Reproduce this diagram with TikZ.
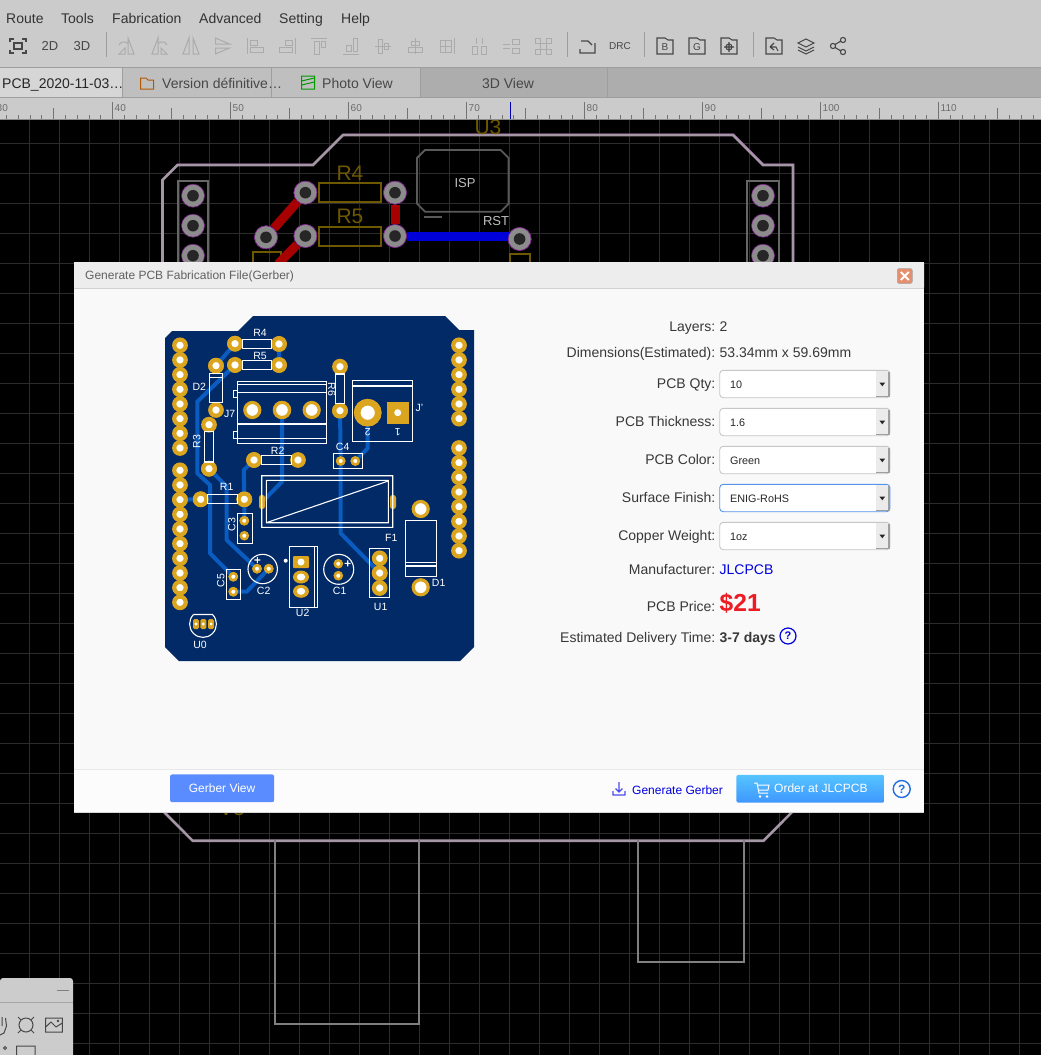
\documentclass[tikz,border=0pt]{standalone}
\usepackage{fontspec}
\setmainfont{Liberation Sans}
\definecolor{barGrey}{HTML}{CBCBCB}
\definecolor{tabGrey}{HTML}{ADADAD}
\definecolor{gridGrey}{HTML}{2C2C2C}
\definecolor{edgeGrey}{HTML}{A596A5}
\definecolor{silkGold}{HTML}{6E5800}
\definecolor{padRim}{HTML}{7A1F8A}
\definecolor{boardBlue}{HTML}{012A66}
\definecolor{traceBlue}{HTML}{0A5CC0}
\definecolor{padGold}{HTML}{DBA520}
\definecolor{linkBlue}{HTML}{0000E0}
\definecolor{helpBlue}{HTML}{1F6FE0}
\definecolor{priceRed}{HTML}{ED1C24}
\definecolor{gerberBlue}{HTML}{5B8CFF}
\definecolor{orderTop}{HTML}{55C4FF}
\definecolor{orderEnd}{HTML}{3F97FF}
\definecolor{closeRed}{HTML}{E58F6E}
\newcommand{\px}[1]{\fontsize{#1}{#1}\selectfont}
\begin{document}
\begin{tikzpicture}[x=1pt,y=-1pt]
        \tikzset{
            menuitem/.style={anchor=base west,text=black!80,font=\px{14}},
            tabtext/.style={anchor=base west,text=black!72,font=\px{14}},
            rulertext/.style={anchor=base west,text=black!58,font=\px{10}},
            tooloff/.style={draw=black!33,line width=1pt},
            toolon/.style={draw=black!72,line width=1.1pt},
            viapad/.style={circle,draw=padRim,fill=black!45,line width=.6pt,minimum size=23pt,inner sep=0,
                    path picture={\fill[black!85] (path picture bounding box.center) circle (5.8pt);}},
            silktext/.style={text=silkGold,font=\px{21}},
            pcbpad/.style={circle,draw=padGold,fill=white,line width=4.2pt,minimum size=11.5pt,inner sep=0},
            smallpad/.style={pcbpad,line width=2.5pt,minimum size=7pt},
            bigpad/.style={pcbpad,line width=3.2pt,minimum size=15pt},
            trace/.style={draw=traceBlue,line width=4pt,line join=round},
            silk/.style={draw=white,line width=1.1pt},
            silktag/.style={text=white,font=\px{10.5},inner sep=0},
            fieldname/.style={anchor=base east,text=black!78,font=\px{14}},
            fieldvalue/.style={anchor=base west,text=black!78,font=\px{14}},
            choice/.style={anchor=base west,text=black!85,font=\px{10.8}}
        }
        \useasboundingbox (0,0) rectangle (1041,1055);
        \clip (0,0) rectangle (1041,1055);

        % canvas and grid
        \fill[black] (0,119) rectangle (1041,1055);
        \foreach \i in {0,...,35}{
                \draw[gridGrey,line width=1pt] (30*\i-.3,119) -- (30*\i-.3,1055);
            }
        \foreach \i in {4,...,34}{
                \draw[gridGrey,line width=1.2pt] (0,30*\i+23.7) -- (1041,30*\i+23.7);
            }

        % layout behind the dialog
        \draw[silkGold,line width=2pt] (252.5,275) -- (252.5,252.3) -- (280.5,252.3) -- (280.5,275);
        \draw[silkGold,line width=2pt] (510,275) -- (510,254) -- (529.6,254) -- (529.6,275);
        \node[viapad] (padA) at (305.4,192.7) {};
        \node[viapad] (padB) at (395,192.7) {};
        \node[viapad] (padC) at (305.4,236) {};
        \node[viapad] (padD) at (395,236) {};
        \node[viapad] (padE) at (266,237.3) {};
        \node[viapad] (padF) at (519.6,239) {};
        \coordinate (redEnd) at (278,264);
        \draw[padRim,line width=1pt,shift={(.7,-1)}] (162.5,275) -- (162.5,180) -- (177.5,165) -- (313,165) -- (343,135) -- (733,135) -- (763,165) -- (793,165) -- (793,275);
        \draw[draw=edgeGrey,line width=2.6pt,line join=miter] (162.5,275) -- (162.5,180) -- (177.5,165) -- (313,165) -- (343,135) -- (733,135) -- (763,165) -- (793,165) -- (793,275);
        \draw[draw=edgeGrey,line width=2.6pt] (155,803) -- (192.6,840.7) -- (763.6,840.7) -- (801,803);
        \draw[black!50,line width=2pt] (275,840) -- (275,1024) -- (419,1024) -- (419,840);
        \draw[black!50,line width=2pt] (637.5,840) -- (637.5,962.3) -- (744.4,962.3) -- (744.4,840);
        \draw[black!60,line width=2pt] (177.5,275) -- (177.5,180.7) -- (208,180.7) -- (208,275);
        \draw[black!60,line width=2pt] (747,275) -- (747,180.5) -- (778.8,180.5) -- (778.8,275);
        \foreach \i/\y in {1/195.7,2/225.7,3/255.7}{
                \node[viapad] (headL\i) at (193,\y) {};
                \node[viapad] (headR\i) at (763,\y) {};
            }
        \draw[red!65!black,line width=9pt] (padA) -- (padE);
        \draw[red!65!black,line width=9pt] (padC) -- (redEnd);
        \draw[red!65!black,line width=9pt] (padB) -- (padD);
        \draw[blue!85!black,line width=9pt] (padD) -- (padD -| padF);
        \foreach \p in {A,B,C,D,E,F}{
                \node[viapad] (via\p) at (pad\p) {};
            }
        \draw[silkGold,line width=2pt] (319,183.3) rectangle (381,202.3);
        \draw[silkGold,line width=2pt] (319,227) rectangle (381,246);
        \node[silktext] (lblR4) at (350,173) {R4};
        \node[silktext] (lblR5) at (350,216) {R5};
        \node[silktext,anchor=base] (lblU3) at (488,134) {U3};
        \node[silktext,anchor=base] (lblV3) at (232,815) {V3};
        \draw[black!65,line width=1.8pt] (425,150) -- (500.6,150) -- (508.6,158) -- (508.6,203.7) -- (500.6,211.7) -- (425,211.7) -- (417,203.7) -- (417,158) -- cycle;
        \draw[black!65,line width=2pt] (424,216.7) -- (442,216.7);
        \node[text=black!25,font=\px{13}] (lblISP) at (465,183.5) {ISP};
        \node[text=black!25,font=\px{13}] (lblRST) at (496,221) {RST};

        % menu, tabs and ruler
        \fill[barGrey] (0,0) rectangle (1041,67);
        \foreach \name/\x in {Route/6,Tools/61,Fabrication/112,Advanced/199,Setting/279,Help/341}{
                \node[menuitem,inner sep=0] (menu\name) at (\x,23) {\name};
            }
        \draw[toolon,shift={(18,46)}] (-8,-4) -- (-8,-7) -- (-4,-7) (4,-7) -- (8,-7) -- (8,-4) (8,4) -- (8,7) -- (4,7) (-4,7) -- (-8,7) -- (-8,4) (-4,-3) rectangle (4,3);
        \node[text=black!72,font=\px{13}] (view2D) at (50,46) {2D};
        \node[text=black!72,font=\px{13}] (view3D) at (82,46) {3D};
        \foreach \x in {106.4,567,644,753}{
                \draw[black!38,line width=.8pt] (\x,32) -- (\x,57);
            }
        \draw[tooloff,shift={(127,46)}] (1,-8) -- (1,8) -- (7,8) -- cycle (-8,8) -- (-2,2) -- (-2,8) -- cycle (-8,-1) arc (200:320:5);
        \draw[tooloff,shift={(159,46)}] (-1,-8) -- (-1,8) -- (-7,8) -- cycle (8,8) -- (2,2) -- (2,8) -- cycle (8,-1) arc (-20:-140:5);
        \draw[tooloff,shift={(191,46)}] (-2,-8) -- (-2,8) -- (-8,8) -- cycle (2,-8) -- (2,8) -- (8,8) -- cycle;
        \draw[tooloff,shift={(222.5,46)}] (-7,-8) -- (7,-2) -- (-7,-2) -- cycle (-7,8) -- (7,2) -- (-7,2) -- cycle;
        \draw[tooloff,shift={(255,46)}] (-8,-8) -- (-8,8) (-5,-6) rectangle (2,-1) (-5,1) rectangle (8,6);
        \draw[tooloff,shift={(287,46)}] (8,-8) -- (8,8) (5,-6) rectangle (-2,-1) (5,1) rectangle (-8,6);
        \draw[tooloff,shift={(319,46)}] (-8,-8) -- (8,-8) (-5,-5) rectangle (0,8) (2,-5) rectangle (6,1);
        \draw[tooloff,shift={(351,46)}] (-8,8) -- (8,8) (-5,5) rectangle (0,-1) (2,5) rectangle (6,-8);
        \draw[tooloff,shift={(383,46)}] (-8,0) -- (8,0) (-5,-7) rectangle (-1,7) (1,-3) rectangle (5,3);
        \draw[tooloff,shift={(415,46)}] (0,-8) -- (0,8) (-7,1) rectangle (7,6) (-4,-5) rectangle (4,-1);
        \draw[tooloff,shift={(447,46)}] (-7,-6) rectangle (4,6) (-1.5,-6) -- (-1.5,6) (-7,0) -- (4,0) (7,-8) -- (7,8);
        \draw[tooloff,shift={(479,46)}] (-3,-8) -- (-3,-2) (3,-8) -- (3,-2) (-7,0) rectangle (-2,8) (2,0) rectangle (7,8);
        \draw[tooloff,shift={(511,46)}] (1,-7) rectangle (8,-2) (1,2) rectangle (8,7) (-8,-2) -- (-1,-2) (-8,2) -- (-1,2);
        \draw[tooloff,shift={(543,46)}] (-8,-8) rectangle (-3,-3) (3,-8) rectangle (8,-3) (-8,3) rectangle (-3,8) (3,3) rectangle (8,8) (-3,-3) rectangle (3,3);
        \draw[toolon,shift={(588,46)}] (-7,-5) -- (0,-5) -- (4,-1) (7,-3) -- (7,7) -- (-8,7) -- (-8,3);
        \node[text=black!72,font=\px{10}] (toolDRC) at (620,46) {DRC};
        \foreach \x/\letter in {665/B,697/G}{
                \draw[toolon,shift={(\x,46)}] (-8,-8) -- (0,-8) -- (3,-6) -- (8,-6) -- (8,8) -- (-8,8) -- cycle;
                \node[text=black!72,font=\px{10}] (folder\letter) at (\x,47.5) {\letter};
            }
        \draw[toolon,shift={(729,46)}] (-8,-8) -- (0,-8) -- (3,-6) -- (8,-6) -- (8,8) -- (-8,8) -- cycle (0,1) circle (3) (0,-4) -- (0,6) (-5,1) -- (5,1);
        \draw[toolon,shift={(774,46)}] (-8,-8) -- (0,-8) -- (3,-6) -- (8,-6) -- (8,8) -- (-8,8) -- cycle (-4,1) -- (0,-3) (-4,1) -- (0,4) (-4,1) -- (2,1) -- (4,5);
        \draw[toolon,shift={(806,46)}] (-8,-3) -- (0,-7) -- (8,-3) -- (0,1) -- cycle (-8,1) -- (0,5) -- (8,1) (-8,4) -- (0,8) -- (8,4);
        \draw[toolon,shift={(838,46)}] (-5,0) circle (2.6) (5,-6) circle (2.6) (5,6) circle (2.6) (-3,-1.5) -- (3,-5) (-3,1.5) -- (3,5);

        \fill[tabGrey] (0,67) rectangle (1041,97);
        \fill[black!16] (0,68) rectangle (122,97);
        \fill[black!25] (122,68) rectangle (420,97);
        \draw[black!38,line width=.7pt] (0,67.5) -- (1041,67.5);
        \foreach \x in {122,271,420,607}{
                \draw[black!38,line width=.8pt] (\x,68) -- (\x,97);
            }
        \node[tabtext,inner sep=0,text=black!85] (tabPCB) at (2,88) {PCB\_2020-11-03…};
        \node[tabtext,inner sep=0] (tabVersion) at (162,88) {Version définitive…};
        \node[tabtext,inner sep=0] (tabPhoto) at (322,88) {Photo View};
        \node[text=black!72,font=\px{14}] (tab3D) at (508,83) {3D View};
        \draw[orange!70!black,line width=1pt] (140.5,89) -- (140.5,78) -- (146,78) -- (148,80) -- (153.5,80) -- (153.5,89) -- cycle;
        \draw[green!60!black,line width=1pt] (301.5,76) rectangle (314.5,89) (301.5,81) -- (314.5,78) (301.5,85) -- (314.5,82);
        \fill[barGrey] (0,97) rectangle (1041,119);
        \draw[black!38,line width=1pt] (0,97.5) -- (1041,97.5);
        \foreach \i in {0,...,88}{
                \draw[black!55,line width=.6pt] (11.8*\i-5.5,115) -- (11.8*\i-5.5,119);
            }
        \foreach \i in {0,...,8}{
                \draw[black!55,line width=.6pt] (118*\i+53.5,108) -- (118*\i+53.5,119);
                \draw[black!55,line width=.6pt] (118*\i-5.5,102) -- (118*\i-5.5,119);
            }
        \foreach \i/\val in {0/30,1/40,2/50,3/60,4/70,5/80,6/90,7/100,8/110}{
                \node[rulertext,inner sep=0] (rule\val) at (118*\i-3.5,111) {\val};
            }
        \draw[blue!70!black,line width=.8pt] (510.7,102) -- (510.7,119);
        \draw[black!45,line width=1pt] (0,119) -- (1041,119);

        % floating tool palette
        \fill[black!20,rounded corners=3pt] (0,978) -- (73,978) -- (73,1060) -- (0,1060) -- cycle;
        \draw[black!35,line width=1pt] (0,1002.3) -- (73,1002.3);
        \draw[black!50,line width=1.2pt] (57,990.7) -- (69,990.7);
        \draw[black!72,line width=1pt] (0,1035) -- (4,1033) -- (6.5,1026) -- (5.5,1018) (2,1017) -- (2,1026);
        \draw[black!72,line width=1pt] (26,1025) circle (7) (21,1020) -- (18,1017) (31,1020) -- (34,1017) (21,1030) -- (18,1033) (31,1030) -- (34,1033);
        \draw[black!72,line width=1pt] (45.7,1018) rectangle (62.3,1032) (45.7,1027) -- (51,1022) -- (56,1027) -- (62.3,1023) (58,1021) circle (.6);
        \draw[black!72,line width=1pt] (16.7,1046) rectangle (35,1060) (5,1048) circle (1.5);

        % dialog
        \fill[black!2.5] (74,262) rectangle (924,812);
        \fill[black!7,rounded corners=1pt] (74,262) rectangle (924,288);
        \draw[black!18,line width=1pt] (74,288.5) -- (924,288.5);
        \node[anchor=base west,inner sep=0,text=black!62,font=\px{12}] (dlgTitle) at (85,279) {Generate PCB Fabrication File(Gerber)};
        \node[fill=closeRed,draw=black!35,line width=.5pt,rounded corners=2pt,minimum size=15pt,inner sep=0] (dlgClose) at (904.8,276) {};
        \draw[white,line width=2pt] (dlgClose.center) ++(-4,-4) -- ++(8,8) ++(0,-8) -- ++(-8,8);
        \fill[black!1] (74,769) rectangle (924,812);
        \draw[black!9,line width=1pt] (74,769.5) -- (924,769.5);
        \draw[black!16,line width=.8pt] (74,812) -- (924,812);

        % board preview
        \fill[boardBlue] (165,338) -- (172,331) -- (238,331) -- (253,316) -- (445,316) -- (459,330) -- (474,330) -- (474,647) -- (460,661) -- (179,661) -- (165,647) -- cycle;
        \node[pcbpad] (r4a) at (235,343.7) {};
        \node[pcbpad] (r4b) at (279,344) {};
        \node[pcbpad] (r5a) at (235,365) {};
        \node[pcbpad] (r5b) at (279,365) {};
        \node[pcbpad] (d2a) at (216,365.7) {};
        \node[pcbpad] (d2b) at (216,410) {};
        \node[pcbpad] (r6a) at (340,366.7) {};
        \node[pcbpad] (r6b) at (340,410.7) {};
        \node[pcbpad] (r3a) at (209,424.7) {};
        \node[pcbpad] (r3b) at (209,468.7) {};
        \node[pcbpad] (r2a) at (254,460) {};
        \node[pcbpad] (r2b) at (298,460) {};
        \node[pcbpad] (r1a) at (200.7,499.3) {};
        \node[pcbpad] (r1b) at (244.3,499.3) {};
        \node[smallpad] (c4a) at (340.7,461) {};
        \node[smallpad] (c4b) at (355.3,461) {};
        \node[smallpad] (c3a) at (244.3,520.7) {};
        \node[smallpad] (c3b) at (244.3,535.7) {};
        \node[smallpad] (c5a) at (233.3,576.7) {};
        \node[smallpad] (c5b) at (233.3,591.7) {};
        \node[smallpad] (c2a) at (257,568.7) {};
        \node[smallpad] (c2b) at (268.7,568.7) {};
        \node[smallpad] (c1a) at (338.3,563.7) {};
        \node[smallpad] (c1b) at (338.3,575.7) {};
        \node[pcbpad] (u1a) at (379.7,558.3) {};
        \node[pcbpad] (u1b) at (379.7,573) {};
        \node[pcbpad] (u1c) at (379.7,588) {};
        \node[bigpad] (j7a) at (252.3,410) {};
        \node[bigpad] (j7b) at (282,410) {};
        \node[bigpad] (j7c) at (311.7,410) {};
        \node[bigpad] (d1a) at (420.7,509) {};
        \node[bigpad] (d1b) at (420.7,587.3) {};
        \node[pcbpad,line width=6.5pt,minimum size=21pt] (j1b) at (367.7,412.7) {};
        \node[fill=padGold,minimum size=22pt,inner sep=0] (j1a) at (397.7,412.7) {};
        \fill[white] (j1a) circle (3.5);
        \coordinate (f1a) at (262,502);
        \coordinate (f1b) at (393,502);
        \fill[padGold,rounded corners=2.5pt] (390,495) rectangle (396,509);
        \foreach \i in {0,...,7}{
                \node[pcbpad] (hl\i) at (180,345.3+14.67*\i) {};
            }
        \foreach \i in {0,...,9}{
                \node[pcbpad] (hm\i) at (180,470.3+14.67*\i) {};
            }
        \foreach \i in {0,...,5}{
                \node[pcbpad] (hr\i) at (459,345.3+14.67*\i) {};
            }
        \foreach \i in {0,...,7}{
                \node[pcbpad] (hs\i) at (459,448+14.67*\i) {};
            }
        \coordinate (t1) at (197.3,401.7);
        \coordinate (t2) at (197.3,473.3);
        \coordinate (t3) at (210,485);
        \coordinate (t4) at (210,553.3);
        \coordinate (t5) at (226.7,486.7);
        \coordinate (t6) at (226.7,540);
        \coordinate (t7) at (243.8,470);
        \coordinate (t8) at (282,481.7);
        \coordinate (t9) at (340.7,533.3);
        \coordinate (t10) at (367.7,448.3);
        \coordinate (t11) at (246.7,591.7);
        \draw[trace] (r4a.center) -- (d2a.center);
        \draw[trace] (r4b.center) -- (r5b.center);
        \draw[trace] (r5a.center) -- (t1) -- (t2) -- (t3) -- (t4) -- (c5a.center);
        \draw[trace] (r3b.center) -- (t5) -- (t6) -- (c2a.center);
        \draw[trace] (r2a.center) -- (t7) -- (r1b.center) -- (c3a.center);
        \draw[trace] (hm2.center) -- (r1a.center);
        \draw[trace] (j7b.center) -- (t8) -- (f1a);
        \draw[trace] (r6b.center) -- (c4a.center) -- (t9) -- (u1b.center);
        \draw[trace] (j1b.center) -- (t10) -- (c4b.center);
        \draw[trace] (c5b.center) -- (t11) -- (c2b.center);
        % pads again over the copper
        \foreach \p in {r4a,r4b,r5a,r5b,d2a,r6b,r3b,r2a,r1a,r1b,u1b,hm2}{
                \node[pcbpad] (top\p) at (\p) {};
            }
        \node[bigpad] (topj7b) at (j7b) {};
        \node[pcbpad,line width=6.5pt,minimum size=21pt] (topj1b) at (j1b) {};
        \foreach \p in {c4a,c4b,c3a,c5a,c5b,c2a,c2b}{
                \node[smallpad] (top\p) at (\p) {};
            }
        \fill[padGold,rounded corners=2.5pt] (259,495) rectangle (265,509);
        % silkscreen
        \draw[silk] (242.3,339.3) rectangle (271.7,348.7);
        \draw[silk] (242.3,360.7) rectangle (271.7,369.7);
        \draw[silk] (209.3,373.3) rectangle (222.7,402.3) (209.3,377.7) -- (222.7,377.7);
        \draw[silk,line width=1.5pt] (237.3,381.7) rectangle (326.7,443.3) (237.3,384.3) -- (326.7,384.3) (237.3,392.7) -- (326.7,392.7) (237.3,424) -- (326.7,424) (237.3,438.7) -- (326.7,438.7);
        \draw[silk] (233.3,390.3) rectangle (237.3,397.3) (233.3,431.7) rectangle (237.3,438.7);
        \draw[silk] (335.3,374) rectangle (344.7,403.7);
        \draw[silk,line width=1.5pt] (352.7,380.7) rectangle (412.3,441.3) (352.7,386) -- (412.3,386);
        \draw[silk] (204.3,431.7) rectangle (213.7,462);
        \draw[silk] (261.3,455.3) rectangle (291.7,464.3);
        \draw[silk] (333.3,453.7) rectangle (362.3,468.3);
        \draw[silk] (261.7,475.7) rectangle (392.7,527.3) (266.3,480.3) rectangle (388.3,522.7) (266.3,522.7) -- (388.3,481);
        \draw[silk] (207.7,494.7) rectangle (237.3,503.7);
        \draw[silk] (237.3,513.3) rectangle (252.3,543.3);
        \draw[silk] (226.3,569.3) rectangle (240.7,599.3);
        \draw[silk] (262.7,569) circle (14.7) (254.3,560) -- (260.3,560) (257.3,557) -- (257.3,563);
        \draw[silk] (289.3,546.3) rectangle (317.7,607.3) (314.3,546.3) -- (314.3,607.3);
        \fill[white] (285.7,560.7) circle (2);
        \draw[silk] (338.7,569.3) circle (15) (344.7,563.3) -- (350.7,563.3) (347.7,560.3) -- (347.7,566.3);
        \draw[silk] (369.3,548.3) rectangle (389.3,597.3);
        \draw[silk] (405.3,520.3) rectangle (436.7,576.3) (405.3,562.7) -- (436.7,562.7) (405.3,566) -- (436.7,566);
        \draw[silk] (193.5,614.5) -- (212.5,614.5) arc (-45:225:13.4);
        \node[fill=padGold,inner sep=0,minimum width=16pt,minimum height=12pt,rounded corners=1pt] (u2a) at (301,562) {};
        \fill[white] (u2a) circle (3.5);
        \foreach \y in {577,591.3}{
                \fill[padGold] (301,\y) ellipse (8 and 6.5);
                \fill[white] (301,\y) ellipse (4.2 and 3.5);
            }
        \foreach \x in {196,203.3,211}{
                \fill[padGold,rounded corners=1.5pt] (\x-3,619) rectangle (\x+3,629);
                \fill[white] (\x,624) circle (1.6);
            }
        \foreach \tag/\x/\y/\turn in {R4/260/333/0,R5/260/355.7/0,D2/199.3/386.7/0,J7/229.7/414/0,R6/331.7/389.3/-90,J'/419.3/408/0,2/367.7/432.3/180,1/397.7/432.3/180,R3/196.7/441.7/90,R2/277.7/451.3/0,C4/342.7/447.3/0,R1/226.7/487/0,C3/231.7/524.3/90,C5/220.7/580.3/90,C2/263.7/590.7/0,U2/302.7/613.3/0,C1/339.7/591/0,U1/380.7/607.3/0,F1/391.3/537.7/0,D1/438.7/582.7/0,U0/200/644.7/0}{
                \node[silktag,rotate=\turn] (tag\tag) at (\x,\y) {\tag};
            }

        % fabrication settings
        \node[fieldname,inner sep=0] (nameLayers) at (715.5,331.5) {Layers:};
        \node[fieldvalue,inner sep=0] (valLayers) at (719.5,331.5) {2};
        \node[fieldname,inner sep=0] (nameDim) at (715.5,357.5) {Dimensions(Estimated):};
        \node[fieldvalue,inner sep=0] (valDim) at (719.5,357.5) {53.34mm x 59.69mm};
        \foreach \sel/\top/\lab/\val/\edge in {Qty/370.3/PCB Qty:/10/black!22,Thick/408.3/PCB Thickness:/1.6/black!22,Color/446.3/PCB Color:/Green/black!22,Finish/484.3/Surface Finish:/ENIG-RoHS/helpBlue!75!white,Copper/522.3/Copper Weight:/1oz/black!22}{
                \node[fieldname,inner sep=0] (name\sel) at (715.5,\top+18.3) {\lab};
                \draw[draw=\edge,fill=white,line width=.9pt,rounded corners=3.5pt] (719.7,\top) rectangle (890,\top+27.4);
                \fill[black!8] (876,\top+1) rectangle (888,\top+26);
                \draw[black!38,line width=1.4pt] (876,\top+26.3) -- (888.8,\top+26.3) -- (888.8,\top+2);
                \fill[black!85] (879.4,\top+12.2) -- (885.2,\top+12.2) -- (882.3,\top+16) -- cycle;
                \node[choice,inner sep=0] (val\sel) at (730,\top+18) {\val};
            }
        \node[fieldname,inner sep=0] (nameMaker) at (715.5,574) {Manufacturer:};
        \node[fieldvalue,inner sep=0,text=linkBlue] (valMaker) at (719.5,574) {JLCPCB};
        \node[fieldname,inner sep=0] (namePrice) at (715.5,611) {PCB Price:};
        \node[fieldvalue,inner sep=0,text=priceRed,font=\px{24.6}\bfseries] (valPrice) at (719.5,611) {\$21};
        \node[fieldname,inner sep=0] (nameTime) at (715.5,642) {Estimated Delivery Time:};
        \node[fieldvalue,inner sep=0,font=\px{14}\bfseries] (valTime) at (719.5,642) {3-7 days};
        \node[circle,draw=linkBlue,line width=1.2pt,minimum size=16pt,inner sep=0,text=linkBlue,font=\px{11}\bfseries] (helpTime) at (788,636) {?};

        % footer buttons
        \node[fill=gerberBlue,rounded corners=2pt,minimum width=104pt,minimum height=27.7pt,inner sep=0,text=white,font=\px{12}] (btnGerber) at (222.1,788.3) {Gerber View};
        \node[anchor=base west,inner sep=0,text=linkBlue,font=\px{12}] (lnkGenerate) at (632,794) {Generate Gerber};
        \draw[linkBlue!70!white,line width=1.1pt] (619,782) -- (619,792) (615.5,788.5) -- (619,792) -- (622.5,788.5) (613,791) -- (613,795) -- (625,795) -- (625,791);
        \node[top color=orderTop,bottom color=orderEnd,rounded corners=2pt,minimum width=148pt,minimum height=27.7pt,inner sep=0] (btnOrder) at (810.4,788.8) {};
        \node[anchor=base west,inner sep=0,text=white,font=\px{12}] (lblOrder) at (774,792) {Order at JLCPCB};
        \draw[white,line width=1pt] (754,783) -- (757,783) -- (759,793) -- (768,793) (758,785) -- (769,785) -- (768,790) -- (759,790) (760,796.5) circle (.7) (767,796.5) circle (.7);
        \node[circle,draw=helpBlue,line width=1.4pt,minimum size=17pt,inner sep=0,text=helpBlue,font=\px{12}\bfseries] (helpOrder) at (901.7,789) {?};
    \end{tikzpicture}
\end{document}
